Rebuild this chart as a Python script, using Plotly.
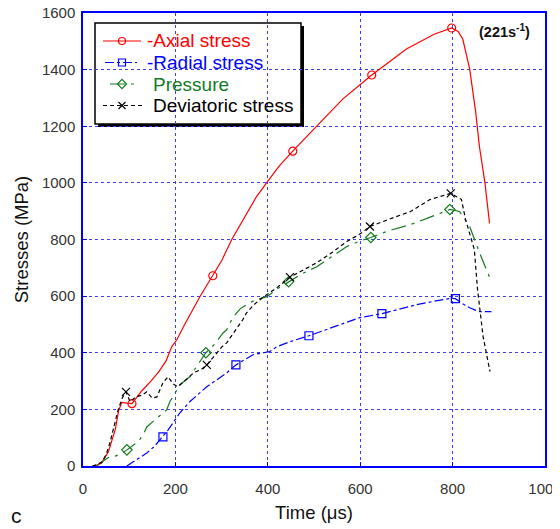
import plotly.graph_objects as go

# ---- data (time in us, stress in MPa) ----
axial_t = [25, 40, 55, 70, 77, 84, 95, 106, 115, 127, 147, 165, 180, 192, 203, 220, 253, 281,
           300, 322, 350, 375, 398, 425, 454, 500, 562, 625, 700, 760, 798, 812, 822, 837,
           850, 858, 870, 880]
axial_s = [0, 10, 50, 130, 195, 225, 222, 220, 240, 265, 300, 335, 372, 421, 446, 500, 598, 672,
           725, 800, 880, 950, 1002, 1060, 1112, 1190, 1296, 1381, 1473, 1525, 1547, 1535, 1508, 1402,
           1250, 1129, 1000, 857]
axial_marks = [7, 17, 24, 27, 30]

radial_t = [95, 110, 125, 138, 155, 173, 184, 198, 210, 231, 250, 268, 290, 311, 331, 350, 368,
            390, 404, 419, 450, 489, 540, 599, 647, 690, 722, 760, 795, 806, 820, 837, 858, 884]
radial_s = [0, 15, 30, 46, 70, 103, 127, 160, 188, 227, 255, 280, 305, 329, 357, 375, 393,
            400, 404, 421, 440, 460, 490, 524, 538, 555, 570, 582, 592, 591, 575, 559, 545, 545]
radial_marks = [5, 14, 21, 24, 29]

pressure_t = [30, 37, 50, 58, 70, 85, 95, 108, 119, 130, 138, 150, 160, 181, 188, 200, 210, 231,
              250, 266, 285, 303, 311, 324, 340, 361, 376, 398, 420, 445, 475, 506, 540, 571,
              600, 623, 660, 709, 750, 794, 815, 837, 858, 884]
pressure_s = [0, 10, 25, 32, 35, 45, 57, 74, 85, 110, 138, 155, 170, 198, 227, 260, 287, 315,
              360, 400, 430, 470, 481, 524, 555, 577, 588, 598, 625, 651, 680, 704, 740, 775,
              795, 807, 830, 853, 878, 906, 899, 846, 754, 651]
pressure_marks = [6, 19, 29, 35, 39]

dev_t = [20, 30, 41, 50, 58, 65, 76, 85, 93, 102, 115, 128, 138, 150, 160, 173, 184, 195, 205,
         220, 240, 255, 268, 285, 300, 311, 330, 346, 354, 370, 389, 420, 448, 475, 506, 540,
         571, 600, 621, 660, 709, 751, 796, 819, 828, 847, 854, 866, 881]
dev_s = [0, 5, 14, 40, 80, 127, 198, 240, 262, 227, 245, 250, 262, 240, 244, 294, 315, 290, 280,
         300, 330, 340, 357, 390, 420, 435, 480, 517, 541, 570, 595, 630, 667, 690, 718, 755,
         793, 820, 846, 870, 899, 941, 963, 942, 871, 765, 623, 457, 333]
dev_marks = [8, 22, 32, 38, 42]

x_ticks = [0, 200, 400, 600, 800, 1000]
y_ticks = [0, 200, 400, 600, 800, 1000, 1200, 1400, 1600]

FONT = "Arial, Liberation Sans, sans-serif"
GRID = "#3c3cff"

# plot area in page pixels (the page body adds an 8px offset)
PL, PT, PW, PH = 83, 13, 462, 453


def px(x):
    return (x - PL) / PW


def py(y):
    return 1 - (y - PT) / PH


series = [
    ("-Axial stress", axial_t, axial_s, axial_marks, "#ff0000", "solid", "circle-open"),
    ("-Radial stress", radial_t, radial_s, radial_marks, "#0000ff", "dashdot", "square-open"),
    ("Pressure", pressure_t, pressure_s, pressure_marks, "#137a1f", "longdashdot", "diamond-open"),
    ("Deviatoric stress", dev_t, dev_s, dev_marks, "#000000", "4px,3px", "x-thin-open"),
]
# hand-drawn legend key rows: (row y, line x0, line x1, text x) in page pixels
legend_rows = [(41, 103, 141, 145), (62.5, 105, 137, 145), (84, 110, 139, 151), (105.5, 103, 142, 151)]

fig = go.Figure()
for (name, t, s, marks, col, dash, sym), (ry, lx0, lx1, tx) in zip(series, legend_rows):
    fig.add_trace(go.Scatter(x=t, y=s, mode="lines", name=name, showlegend=False,
                             line=dict(color=col, width=1.2, dash=dash)))
    fig.add_trace(go.Scatter(x=[t[i] for i in marks], y=[s[i] for i in marks], mode="markers",
                             showlegend=False, hoverinfo="skip",
                             marker=dict(symbol=sym, size=8, color=col,
                                         line=dict(color=col, width=1.2))))
    # legend key
    fig.add_trace(go.Scatter(x=[px(lx0), px(lx1)], y=[py(ry)] * 2, mode="lines", xaxis="x2", yaxis="y2",
                             showlegend=False, hoverinfo="skip",
                             line=dict(color=col, width=1.2, dash=dash)))
    fig.add_trace(go.Scatter(x=[px(122)], y=[py(ry)], mode="markers", xaxis="x2", yaxis="y2",
                             showlegend=False, hoverinfo="skip",
                             marker=dict(symbol=sym, size=7, color=col,
                                         line=dict(color=col, width=1.2))))
    fig.add_annotation(xref="paper", yref="paper", x=px(tx), y=py(ry), text=name,
                       xanchor="left", yanchor="middle", showarrow=False,
                       font=dict(family=FONT, size=19, color=col))

# legend box + drop shadow
fig.add_shape(type="rect", xref="paper", yref="paper", x0=px(98), x1=px(304), y0=py(127), y1=py(26),
              fillcolor="#000000", line=dict(width=0), layer="between")
fig.add_shape(type="rect", xref="paper", yref="paper", x0=px(95), x1=px(301), y0=py(124), y1=py(23),
              fillcolor="white", line=dict(color="#000000", width=1.5), layer="between")

axis_common = dict(showgrid=True, gridcolor=GRID, gridwidth=1, griddash="dot",
                   showline=True, linecolor="#0000ff", linewidth=1.5, mirror=True,
                   ticks="inside", ticklen=4, tickcolor="#0000ff",
                   tickfont=dict(family=FONT, size=15, color="#333333"),
                   ticklabeloverflow="allow", zeroline=False)

fig.update_xaxes(range=[0, 1000], tickvals=x_ticks, automargin="bottom", ticklabelstandoff=8,
                 title=dict(text="Time (μs)", font=dict(family=FONT, size=18.5, color="#111111"),
                            standoff=10),
                 **axis_common)
fig.update_yaxes(range=[0, 1600], tickvals=y_ticks, automargin="left", ticklabelstandoff=3,
                 title=dict(text="Stresses (MPa)", font=dict(family=FONT, size=18.5, color="#111111"),
                            standoff=8),
                 **axis_common)

fig.add_annotation(x=913, y=1537, text="<b>(221s<sup>-1</sup>)</b>", showarrow=False,
                   font=dict(family=FONT, size=14.5, color="#111111"))
fig.add_annotation(xref="paper", yref="paper", x=px(9), y=py(515), text="c", showarrow=False,
                   xanchor="left", yanchor="middle", font=dict(family=FONT, size=21, color="#111111"))

fig.update_layout(
    width=552, height=521,
    margin=dict(l=75, r=15, t=5, b=63),
    paper_bgcolor="white", plot_bgcolor="white",
    font=dict(family=FONT),
    showlegend=False,
    xaxis2=dict(overlaying="x", range=[0, 1], visible=False, fixedrange=True),
    yaxis2=dict(overlaying="y", range=[0, 1], visible=False, fixedrange=True),
)

fig.write_html("out.html")
